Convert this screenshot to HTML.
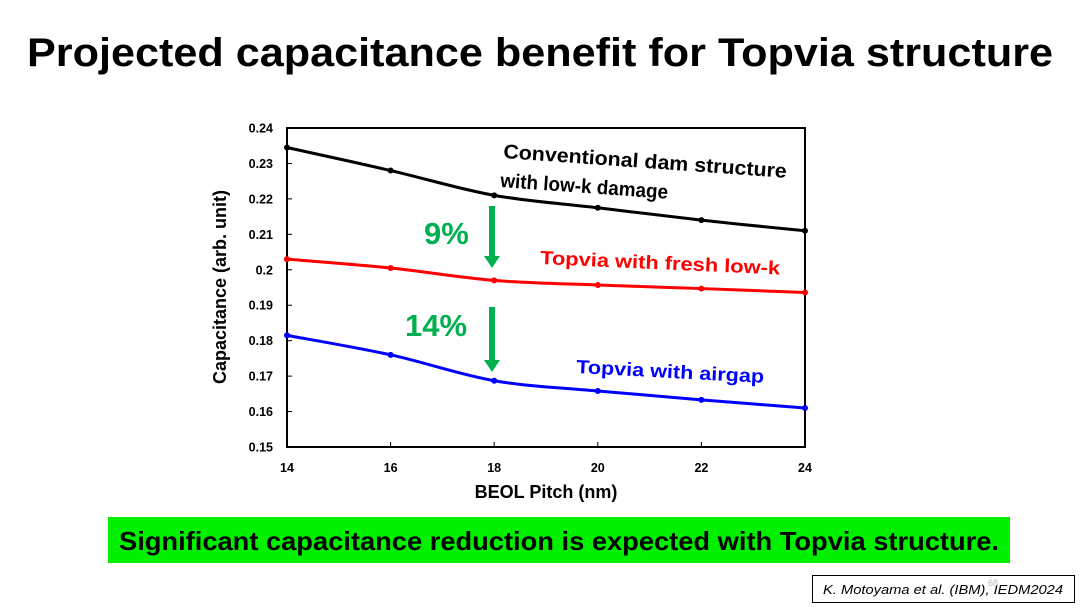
<!DOCTYPE html>
<html><head><meta charset="utf-8"><style>
html,body{margin:0;padding:0;background:#fff;width:1080px;height:609px;overflow:hidden}
svg text{font-family:"Liberation Sans",sans-serif}
</style></head><body>
<svg id="chart" width="1080" height="609" viewBox="0 0 1080 609" xmlns="http://www.w3.org/2000/svg">
<text x="540" y="66" text-anchor="middle" font-size="40" font-weight="bold" textLength="1026" lengthAdjust="spacingAndGlyphs">Projected capacitance benefit for Topvia structure</text>
<g id="plot"></g>
<rect x="108" y="517" width="902" height="46" fill="#00f000"/>
<text x="559" y="550" text-anchor="middle" font-size="26" font-weight="bold" textLength="880" lengthAdjust="spacingAndGlyphs">Significant capacitance reduction is expected with Topvia structure.</text>
<rect x="812.5" y="575.5" width="262" height="27" fill="#fff" stroke="#000" stroke-width="1"/>
<text x="943" y="594" text-anchor="middle" font-size="13" font-style="italic" textLength="240" lengthAdjust="spacingAndGlyphs">K. Motoyama et al. (IBM), IEDM2024</text>
<text x="988" y="586" font-size="9" fill="#bbb">68</text>
</svg>
<script>
const categories=[14,16,18,20,22,24];
const conventional=[0.2345,0.228,0.221,0.2175,0.214,0.211];
const freshLowK=[0.203,0.2005,0.197,0.1957,0.1947,0.1936];
const airgap=[0.1815,0.176,0.1687,0.1658,0.1633,0.161];
const yTicks=[0.15,0.16,0.17,0.18,0.19,0.2,0.21,0.22,0.23,0.24];
const yTickLabels=["0.15","0.16","0.17","0.18","0.19","0.2","0.21","0.22","0.23","0.24"];
const xTickLabels=["14","16","18","20","22","24"];
const NS="http://www.w3.org/2000/svg";
const L=287,R=805,T=128,B=447;
const xs=v=>L+(v-14)/(24-14)*(R-L);
const ys=v=>B-(v-0.15)/(0.24-0.15)*(B-T);
const g=document.getElementById('plot');
function mk(t,a,p){const e=document.createElementNS(NS,t);for(const k in a)e.setAttribute(k,a[k]);(p||g).appendChild(e);return e;}
const frame=mk('rect',{x:L,y:T,width:R-L,height:B-T,fill:'none',stroke:'#000','stroke-width':2});


yTicks.forEach((v,i)=>{
 const t=mk('text',{x:L-14,y:ys(v)+4.5,'text-anchor':'end','font-size':12.5,'font-weight':'bold'});t.textContent=yTickLabels[i];
 
 
 const k=mk('line',{x1:L,x2:L+5,y1:ys(v),y2:ys(v),stroke:'#000','stroke-width':1});
 
 
});
categories.forEach((c,i)=>{
 const t=mk('text',{x:xs(c),y:B+25,'text-anchor':'middle','font-size':12.5,'font-weight':'bold'});t.textContent=xTickLabels[i];
 
 
 const k=mk('line',{x1:xs(c),x2:xs(c),y1:B,y2:B-5,stroke:'#000','stroke-width':1});
 
 
});
const xt=mk('text',{x:546,y:498,'text-anchor':'middle','font-size':18,'font-weight':'bold'});xt.textContent='BEOL Pitch (nm)';


const yt=mk('text',{x:0,y:0,'text-anchor':'middle','font-size':18,'font-weight':'bold',transform:'translate(226,287) rotate(-90)'});yt.textContent='Capacitance (arb. unit)';


function smooth(p){let d=`M${p[0][0]},${p[0][1]}`;for(let i=0;i<p.length-1;i++){const p0=p[i-1]||p[i],p1=p[i],p2=p[i+1],p3=p[i+2]||p2;
 d+=` C${p1[0]+(p2[0]-p0[0])/6},${p1[1]+(p2[1]-p0[1])/6} ${p2[0]-(p3[0]-p1[0])/6},${p2[1]-(p3[1]-p1[1])/6} ${p2[0]},${p2[1]}`;}return d;}
function series(vals,col,name){
 const pts=vals.map((v,i)=>[xs(categories[i]),ys(v)]);
 const p=mk('path',{d:smooth(pts),fill:'none',stroke:col,'stroke-width':3});
 
 
 pts.forEach(q=>{const c=mk('circle',{cx:q[0],cy:q[1],r:3,fill:col});
  
  });
}
series(conventional,'#000','conventional');
series(freshLowK,'#ff0000','fresh-low-k');
series(airgap,'#0000ff','airgap');
function lab(txt,x,y,col,rot,name,size,len){const a={x:x,y:y,fill:col,'font-size':size||19,'font-weight':'bold',transform:`rotate(${rot} ${x} ${y})`};
 if(len){a.textLength=len;a.lengthAdjust='spacingAndGlyphs';}
 const t=mk('text',a);t.textContent=txt;
 
 }
lab('Conventional dam structure',503,158,'#000',4,'conventional-label',20,284);
lab('with low-k damage',500,187,'#000',4,'conventional-label-2',20,168);
lab('Topvia with fresh low-k',540,264,'#ff0000',2.5,'fresh-low-k-label',19,240);
lab('Topvia with airgap',576,373,'#0000ff',3,'airgap-label',19,188);
lab('9%',424,244,'#00b050',0,'reduction-9-label',31);
lab('14%',405,336,'#00b050',0,'reduction-14-label',31);
function arrow(y1,y2,name){const a=mk('path',{d:`M489,${y1} L495,${y1} L495,${y2-12} L500,${y2-12} L492,${y2} L484,${y2-12} L489,${y2-12} Z`,fill:'#00b050'});
 
 }
arrow(206,268,'arrow-9');
arrow(307,372,'arrow-14');
</script>
</body></html>
